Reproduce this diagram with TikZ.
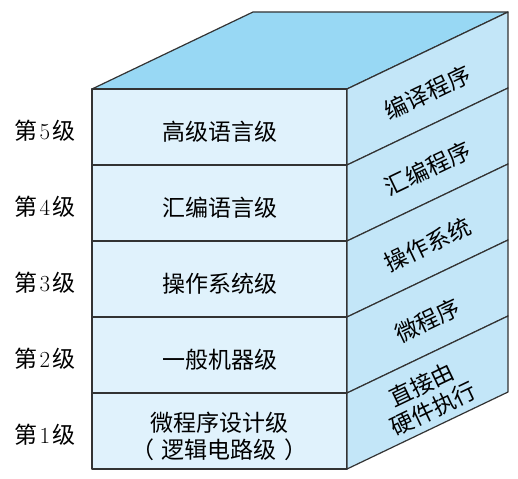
\documentclass[tikz,border=0pt]{standalone}
\usepackage{fontspec}
\newfontfamily\cjk{Noto Sans CJK SC}
\definecolor{frontblue}{HTML}{E0F2FC}
\definecolor{sideblue}{HTML}{C3E6F8}
\definecolor{topblue}{HTML}{98D8F4}
\tikzset{
  edge/.style={draw=black!80, line width=1.2pt, line join=round},
  levelname/.style={font=\cjk\fontsize{23}{27}\selectfont, align=center, inner sep=0pt},
  sidename/.style={levelname, rotate=25.6},
  levelnum/.style={font=\fontsize{23}{27}\selectfont, inner sep=0pt}
}
\begin{document}
\begin{tikzpicture}[x=1pt, y=-1pt]
      \useasboundingbox (0,0) rectangle (518,478);
      \coordinate (front nw) at (92,89);
      \coordinate (front ne) at (347,89);
      \coordinate (back nw) at (253,12);
      \coordinate (back ne) at (508,12);
      \fill[topblue] (front nw) -- (back nw) -- (back ne) -- (front ne) -- cycle;
      \draw[edge] (front nw) -- (back nw) -- (back ne) -- (front ne) -- cycle;
      \foreach \i/\front/\side in {0/高级语言级/编译程序, 1/汇编语言级/汇编程序,
          2/操作系统级/操作系统, 3/一般机器级/微程序,
          4/{微程序设计级\\（\kern8pt 逻辑电路级\kern8pt）}/{直接由\\硬件执行}} {
        \pgfmathtruncatemacro\lvl{5-\i}
        \pgfmathsetmacro\ytop{89+76*\i}
        \pgfmathsetmacro\ymid{\ytop+38}
        \filldraw[edge, fill=frontblue] (92,\ytop) rectangle (347,\ytop+76);
        \filldraw[edge, fill=sideblue] (347,\ytop) -- (508,\ytop-77) -- (508,\ytop-1)
          -- (347,\ytop+76) -- cycle;
        \node[levelname] (front \lvl) at (219.5,\ymid+5) {\front};
        \node[sidename] (side \lvl) at (427.5,\ymid-34.5) {\side};
        \node[levelnum] (level \lvl) at (45,\ymid+4)
          {{\cjk 第}\kern2pt\lvl\kern2pt{\cjk 级}};
      }
  \end{tikzpicture}
\end{document}
